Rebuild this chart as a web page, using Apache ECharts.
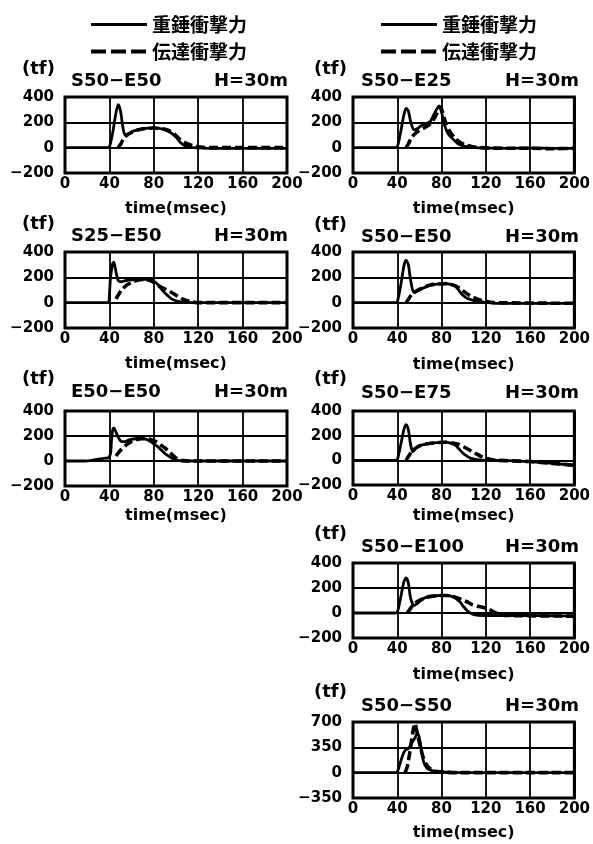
<!DOCTYPE html>
<html><head><meta charset="utf-8">
<script src="https://cdn.jsdelivr.net/npm/echarts@6/dist/echarts.min.js"></script>
<style>html,body{margin:0;padding:0;background:#fff}#c{width:593px;height:844px}</style>
</head><body><div id="c"></div>
<script>
// ---- text / categories ----
const legendNames = ['重錘衝撃力', '伝達衝撃力'];
const panelTitles = ['S50−E50', 'S50−E25', 'S25−E50', 'S50−E50', 'E50−E50', 'S50−E75', 'S50−E100', 'S50−S50'];
const heightLabel = 'H=30m';
const unitLabel = '(tf)';
const xAxisName = 'time(msec)';
const xRange = [0, 200, 40];
const yRangeStd = [-200, 400, 200];
const yRangeSS = [-350, 700, 350];

// ---- data: [time(msec), force(tf)] ----
const impact1 = [[0,0],[38,0],[40,5],[43,120],[46,280],[48,340],[50,290],[52,170],[54,100],[57,110],[60,125],[65,140],[70,150],[75,155],[80,155],[85,152],[90,140],[95,120],[100,85],[104,40],[108,15],[112,5],[116,0],[130,-5],[200,-5]];
const trans1  = [[48,0],[50,25],[53,75],[56,100],[60,120],[65,138],[70,148],[75,153],[80,155],[85,152],[90,145],[95,130],[100,95],[104,60],[108,40],[112,25],[116,15],[122,5],[130,0],[200,0]];

const impact2 = [[0,0],[38,0],[40,5],[43,120],[46,260],[48,310],[50,290],[52,210],[55,140],[58,150],[62,175],[66,190],[70,210],[73,260],[76,310],[78,330],[80,280],[83,170],[86,110],[90,70],[95,30],[100,12],[105,5],[110,0],[120,-3],[140,-5],[160,-3],[180,-5],[200,-5]];
const trans2  = [[48,0],[50,30],[53,80],[56,110],[60,135],[65,160],[70,190],[74,240],[77,290],[79,320],[81,280],[84,190],[88,120],[92,75],[97,40],[102,20],[108,8],[115,0],[140,-5],[160,-5],[180,-8],[200,-5]];

const impact3 = [[0,0],[39,0],[40,60],[41,200],[43,310],[44,320],[46,240],[48,175],[51,165],[55,175],[60,180],[68,185],[76,185],[80,170],[84,140],[88,95],[92,60],[96,30],[100,15],[105,5],[112,0],[200,0]];
const trans3  = [[46,30],[48,60],[51,100],[55,135],[60,160],[66,178],[72,185],[78,170],[82,145],[86,125],[90,108],[94,90],[98,70],[102,48],[106,28],[110,15],[115,5],[120,0],[200,0]];

const impact4 = [[0,0],[38,0],[40,5],[43,130],[46,290],[48,335],[50,300],[52,180],[55,80],[58,90],[62,110],[66,125],[71,140],[78,148],[84,150],[88,145],[92,130],[95,105],[98,70],[102,40],[106,25],[110,15],[115,8],[122,0],[130,-5],[200,-5]];
const trans4  = [[48,0],[50,25],[53,65],[56,85],[60,105],[65,125],[70,140],[78,148],[84,150],[88,145],[92,135],[96,115],[100,90],[104,65],[108,45],[112,30],[116,18],[122,8],[128,0],[200,-5]];

const impact5 = [[0,0],[18,0],[24,5],[30,15],[36,22],[39,25],[41,60],[42,180],[43,250],[44,265],[46,230],[48,190],[51,155],[54,155],[58,170],[63,178],[68,180],[73,175],[78,150],[82,125],[86,95],[90,60],[94,35],[98,15],[103,3],[110,0],[200,0]];
const trans5  = [[46,40],[48,65],[51,95],[54,120],[57,140],[61,160],[66,175],[72,180],[77,172],[82,155],[86,130],[90,105],[93,80],[96,55],[99,30],[102,12],[106,3],[112,0],[200,0]];

const impact6 = [[0,0],[38,0],[40,5],[43,120],[46,250],[48,290],[50,250],[52,130],[54,70],[57,100],[60,120],[65,130],[70,140],[78,145],[84,148],[88,140],[92,125],[95,100],[98,70],[102,40],[106,18],[112,5],[120,0],[130,0],[140,-3],[160,-10],[180,-25],[200,-40]];
const trans6  = [[48,0],[50,30],[53,70],[56,95],[60,115],[65,130],[70,138],[78,145],[84,147],[90,140],[95,130],[100,110],[104,90],[108,70],[112,50],[116,30],[120,15],[126,5],[132,0],[140,-3],[160,-10],[180,-25],[200,-40]];

const impact7 = [[0,0],[38,0],[40,5],[43,120],[46,250],[48,280],[50,240],[52,120],[55,60],[58,75],[62,105],[66,125],[72,135],[78,140],[85,140],[90,130],[94,110],[97,85],[100,50],[103,20],[106,0],[110,-15],[118,-20],[140,-20],[160,-20],[180,-22],[200,-25]];
const trans7  = [[49,0],[51,25],[54,60],[57,85],[61,105],[66,125],[72,135],[78,140],[85,140],[90,132],[95,118],[100,100],[104,85],[108,65],[112,55],[116,48],[120,38],[124,25],[128,5],[132,-10],[140,-20],[200,-25]];

const impact8 = [[0,0],[38,0],[40,10],[42,100],[44,200],[46,280],[48,320],[50,330],[52,380],[54,430],[56,480],[58,540],[59,530],[60,480],[62,300],[64,140],[67,60],[70,35],[74,20],[80,10],[90,5],[100,0],[200,0]];
const trans8  = [[47,0],[49,80],[51,250],[53,450],[55,640],[56,680],[57,620],[59,480],[61,350],[63,230],[66,120],[70,50],[75,20],[85,5],[100,0],[200,0]];

const impactSeries = [impact1, impact2, impact3, impact4, impact5, impact6, impact7, impact8];
const transSeries  = [trans1, trans2, trans3, trans4, trans5, trans6, trans7, trans8];

// ---- layout (pixels) ----
const LCOL = {left: 65, width: 222, tf: 22, title: 71};
const RCOL = {left: 353, width: 225, tf: 314, title: 361};
const panels = [
  {col: LCOL, top: 97,  h: 76, tfY: 69,  titleY: 81,  nameGap: 28, yr: yRangeStd},
  {col: RCOL, top: 97,  h: 76, tfY: 69,  titleY: 81,  nameGap: 28, yr: yRangeStd},
  {col: LCOL, top: 252, h: 76, tfY: 224, titleY: 236, nameGap: 28, yr: yRangeStd},
  {col: RCOL, top: 252, h: 76, tfY: 225, titleY: 237, nameGap: 29, yr: yRangeStd},
  {col: LCOL, top: 411, h: 75, tfY: 379, titleY: 392, nameGap: 22, yr: yRangeStd},
  {col: RCOL, top: 411, h: 74, tfY: 379, titleY: 393, nameGap: 23, yr: yRangeStd},
  {col: RCOL, top: 563, h: 75, tfY: 534, titleY: 547, nameGap: 29, yr: yRangeStd},
  {col: RCOL, top: 722, h: 76, tfY: 692, titleY: 706, nameGap: 27, yr: yRangeSS}
];

const tickFont = {fontFamily: 'DejaVu Sans', fontWeight: 'bold', fontSize: 15, color: '#000'};
const grids = [], xAxes = [], yAxes = [], series = [], graphics = [];
panels.forEach((p, i) => {
  grids.push({left: p.col.left, top: p.top, width: p.col.width, height: p.h,
    show: true, borderColor: '#000', borderWidth: 3, backgroundColor: 'transparent'});
  xAxes.push({type: 'value', gridIndex: i, min: xRange[0], max: xRange[1], interval: xRange[2],
    axisLine: {show: false}, axisTick: {show: false},
    splitLine: {show: true, lineStyle: {color: '#000', width: 1.8}},
    axisLabel: Object.assign({margin: 4, showMinLabel: true, showMaxLabel: true}, tickFont),
    name: xAxisName, nameLocation: 'middle', nameGap: p.nameGap,
    nameTextStyle: {fontFamily: 'DejaVu Sans', fontWeight: 'bold', fontSize: 16, color: '#000'}});
  yAxes.push({type: 'value', gridIndex: i, min: p.yr[0], max: p.yr[1], interval: p.yr[2],
    axisLine: {show: false}, axisTick: {show: false},
    splitLine: {show: true, lineStyle: {color: '#000', width: 1.8}},
    axisLabel: Object.assign({margin: 11, showMinLabel: true, showMaxLabel: true,
      formatter: v => v < 0 ? '−' + Math.abs(v) : String(v)}, tickFont)});
  series.push({type: 'line', name: legendNames[0], xAxisIndex: i, yAxisIndex: i,
    data: impactSeries[i], showSymbol: false, symbol: 'none', smooth: 0.25,
    lineStyle: {color: '#000', width: 2.8, type: 'solid'}, itemStyle: {color: '#000'}, z: 3});
  series.push({type: 'line', name: legendNames[1], xAxisIndex: i, yAxisIndex: i,
    data: transSeries[i], showSymbol: false, symbol: 'none', smooth: 0.25,
    lineStyle: {color: '#000', width: 3.6, type: [9, 4]}, itemStyle: {color: '#000'}, z: 3});
  graphics.push({type: 'text', left: p.col.tf, top: p.tfY - 9,
    style: {text: unitLabel, font: 'bold 18px "DejaVu Sans"', fill: '#000'}});
  graphics.push({type: 'text', left: p.col.title, top: p.titleY - 9,
    style: {text: panelTitles[i], font: 'bold 18px "DejaVu Sans"', fill: '#000'}});
  graphics.push({type: 'text', right: 593 - (p.col.left + p.col.width) - 1, top: p.titleY - 9,
    style: {text: heightLabel, font: 'bold 18px "DejaVu Sans"', fill: '#000'}});
});

const legendData = [
  {name: legendNames[0], lineStyle: {width: 2.8, type: 'solid', color: '#000'}},
  {name: legendNames[1], lineStyle: {width: 4, type: [15, 5], color: '#000'}}
];
const legendBase = {orient: 'vertical', top: 10, itemWidth: 56, itemHeight: 14, itemGap: 8,
  data: legendData, selectedMode: false, itemStyle: {opacity: 0, borderWidth: 0},
  textStyle: {fontFamily: 'Noto Sans CJK JP', fontWeight: 'bold', fontSize: 19, color: '#000'}};

const chart = echarts.init(document.getElementById('c'), null, {renderer: 'canvas'});
chart.setOption({
  animation: false,
  backgroundColor: '#fff',
  legend: [Object.assign({left: 84}, legendBase), Object.assign({left: 374}, legendBase)],
  grid: grids, xAxis: xAxes, yAxis: yAxes, series: series, graphic: graphics
});
</script></body></html>
